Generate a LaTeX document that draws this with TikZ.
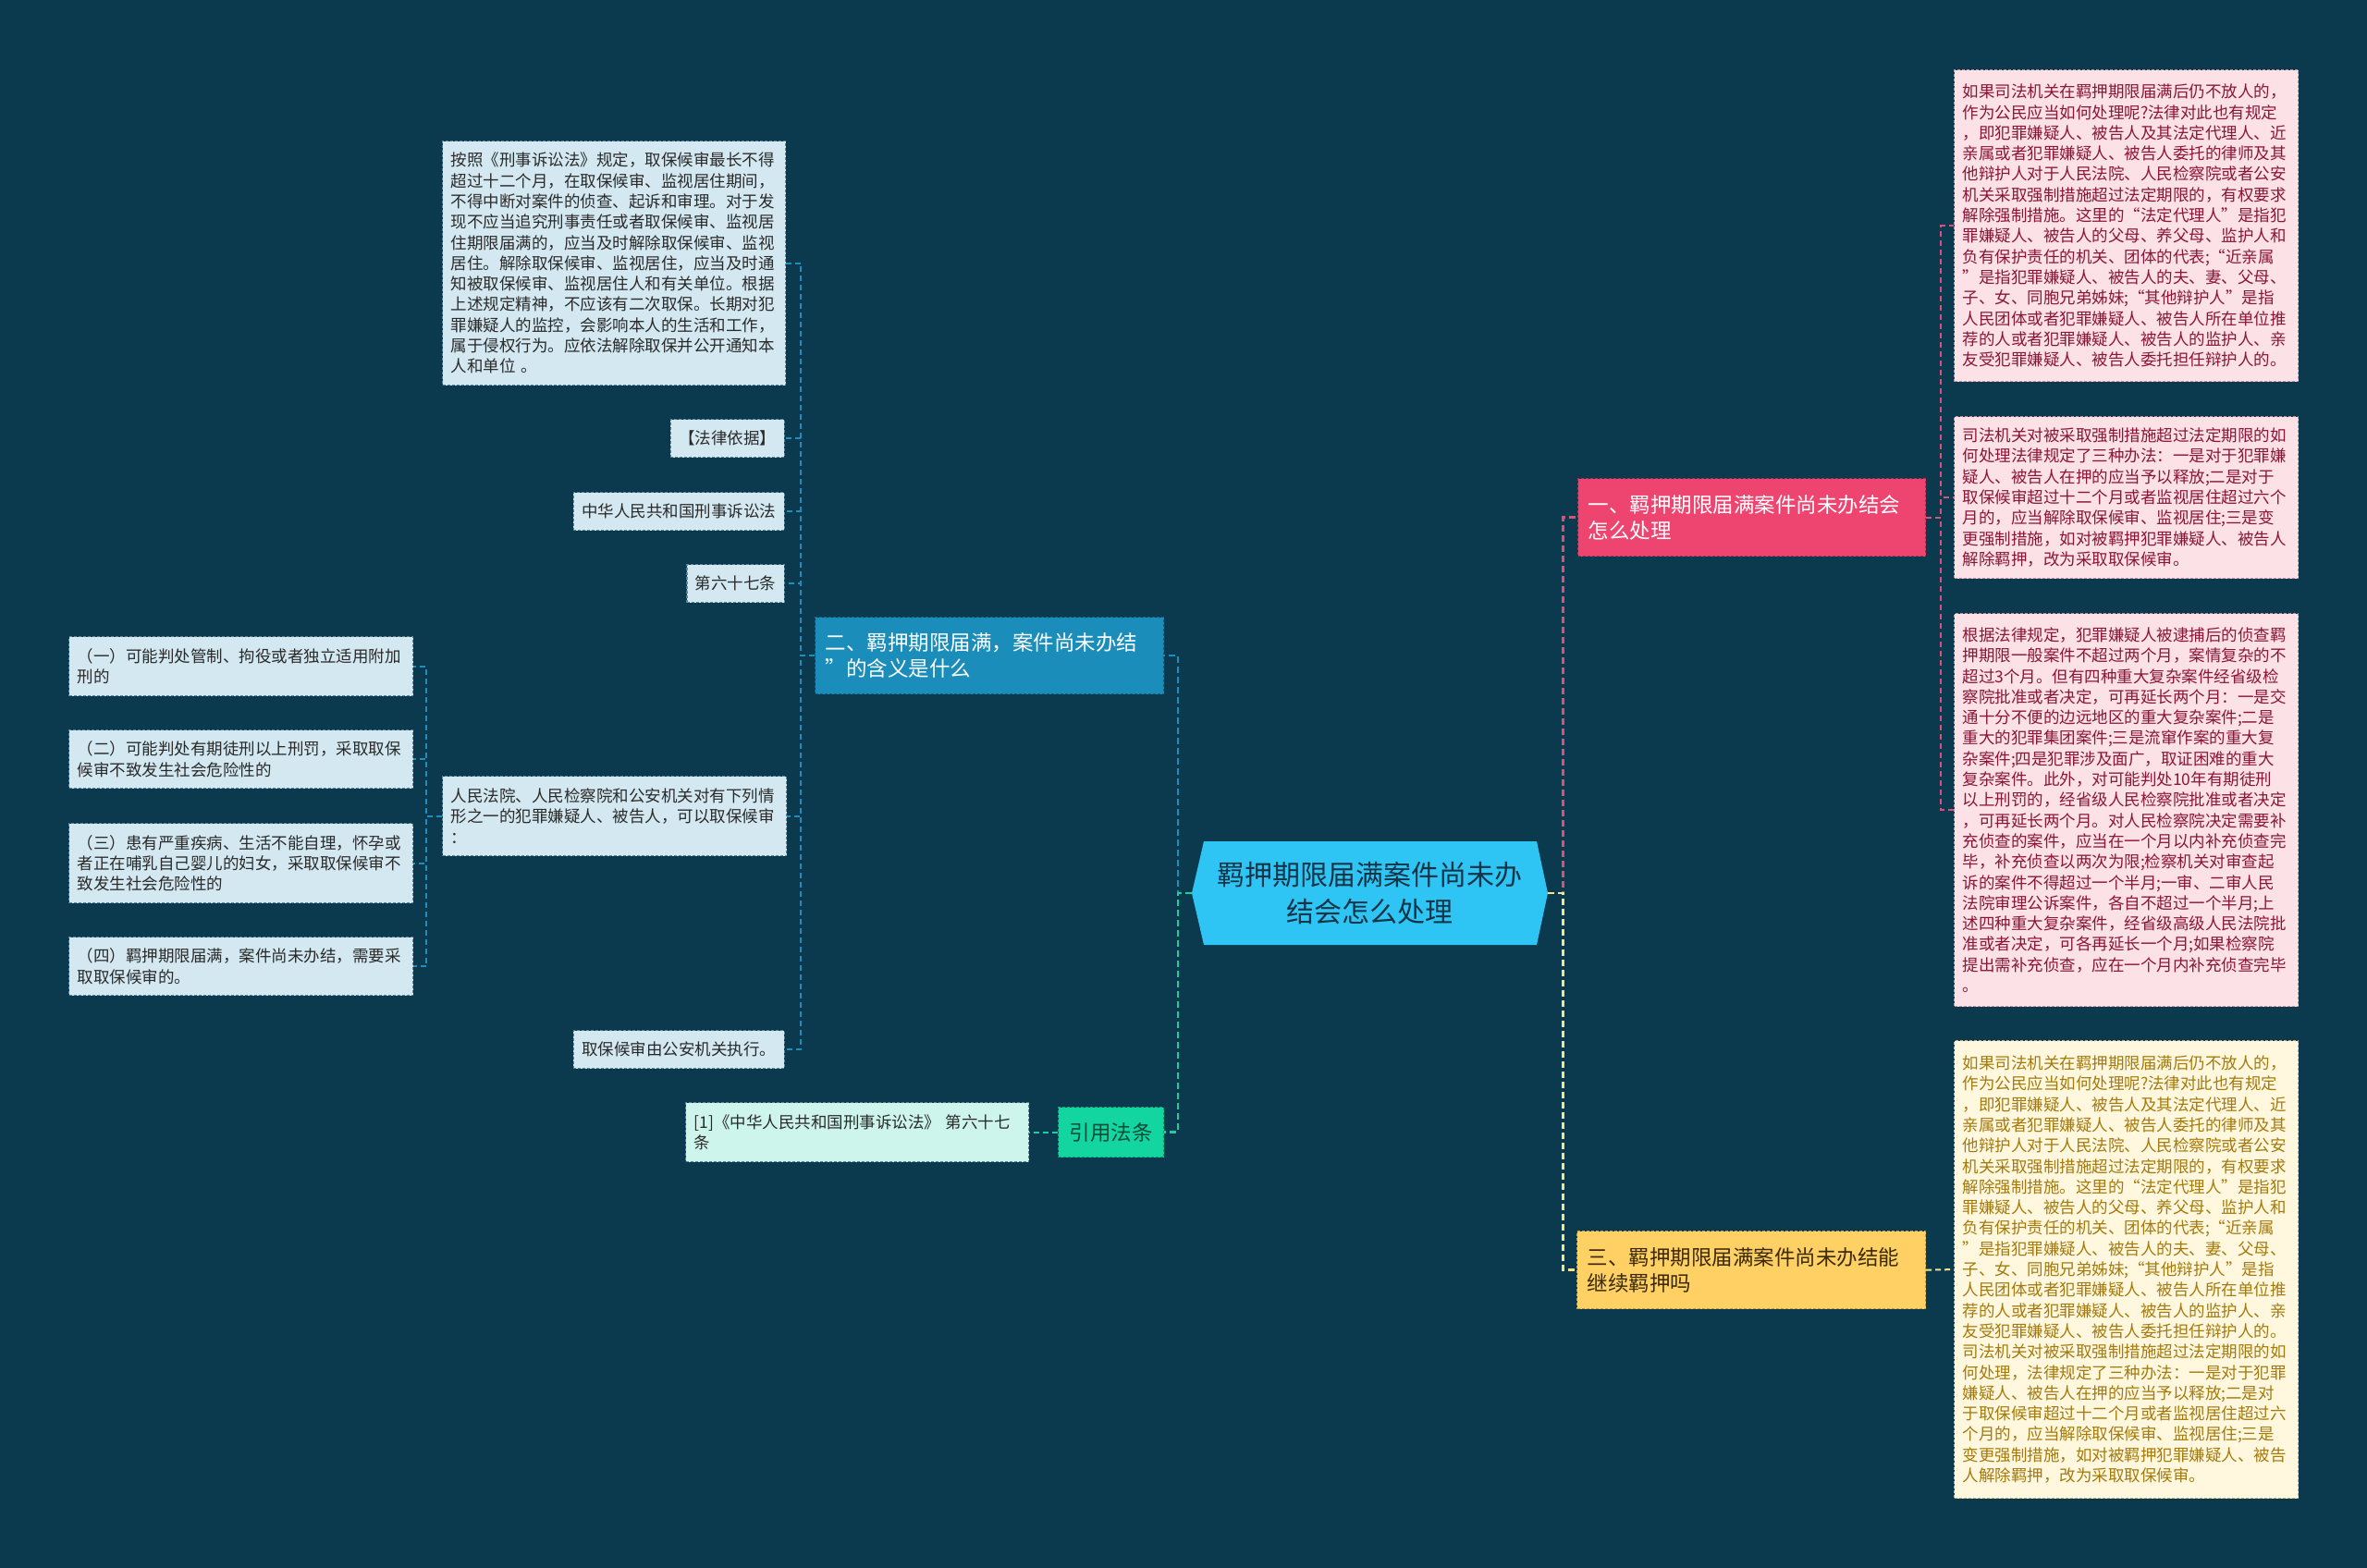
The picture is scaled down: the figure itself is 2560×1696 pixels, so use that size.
\documentclass[tikz,border=0pt]{standalone}
\usepackage{fontspec}
\setmainfont{Noto Sans CJK SC}
\definecolor{bg}{HTML}{0B3A4E}
\definecolor{lbfill}{HTML}{D3E8F0}
\definecolor{lbdraw}{HTML}{5D8496}
\definecolor{lbtext}{HTML}{2A2A2A}
\definecolor{bluebr}{HTML}{1A8DBA}
\definecolor{bluecon}{HTML}{1F8EBE}
\definecolor{cfill}{HTML}{2EC4F3}
\definecolor{ctext}{HTML}{163447}
\definecolor{pinkbr}{HTML}{EE4570}
\definecolor{pinkcon}{HTML}{DB5079}
\definecolor{pkfill}{HTML}{FCE1E7}
\definecolor{pktext}{HTML}{8B1538}
\definecolor{pkdraw}{HTML}{C98FA0}
\definecolor{yelbr}{HTML}{FFD064}
\definecolor{yeltext}{HTML}{3A2A06}
\definecolor{yelcon}{HTML}{F3E48C}
\definecolor{ybfill}{HTML}{FFF7DE}
\definecolor{ybtext}{HTML}{A47A0C}
\definecolor{ybdraw}{HTML}{C9B27A}
\definecolor{grnbr}{HTML}{13D5A0}
\definecolor{grntext}{HTML}{0D4B3A}
\definecolor{grncon}{HTML}{1CCF9E}
\definecolor{citefill}{HTML}{CEF5EB}
\begin{document}
\begin{tikzpicture}[x=1pt,y=-1pt,
  base/.style={anchor=north west, inner xsep=9pt, inner ysep=0pt, align=left,
    font=\fontsize{17.5}{22.3}\selectfont, dash pattern=on 3pt off 2pt, line width=1.2pt},
  lb/.style={base, fill=lbfill, draw=lbdraw, text=lbtext},
  lbr/.style={lb, anchor=north east, minimum height=41pt},
  pk/.style={base, fill=pkfill, draw=pkdraw, text=pktext},
  yb/.style={base, fill=ybfill, draw=ybdraw, text=ybtext},
  br/.style={anchor=north west, inner xsep=11pt, inner ysep=0pt, align=left,
    font=\fontsize{22.5}{28}\selectfont, dash pattern=on 3pt off 2pt, line width=1.2pt},
  con/.style={line width=2pt, dash pattern=on 6pt off 4pt},
  maincon/.style={line width=2.6pt, dash pattern=on 7pt off 4pt}
]
\fill[bg] (0,0) rectangle (2560,1696);

% central
\node (central) [at={(1481.5,966)}, minimum width=385pt, minimum height=112pt, inner sep=0pt,
  fill=bg, align=center, text=ctext, font=\fontsize{30}{40}\selectfont,
  path picture={\fill[cfill] (path picture bounding box.west)
     -- ([xshift=13pt]path picture bounding box.north west)
     -- ([xshift=-12pt]path picture bounding box.north east)
     -- (path picture bounding box.east)
     -- ([xshift=-12pt]path picture bounding box.south east)
     -- ([xshift=13pt]path picture bounding box.south west) -- cycle;}]
  {羁押期限届满案件尚未办\\结会怎么处理};

% left branch 二
\node (b2) [br, fill=bluebr, draw=bluebr!70!black, text=white, text width=355pt, minimum height=83pt, at={(881,667)}]
  {二、羁押期限届满，案件尚未办结\\”的含义是什么};

\node (a1) [lb, text width=353pt, minimum height=264pt, at={(478,152)}]
  {按照《刑事诉讼法》规定，取保候审最长不得\\
超过十二个月，在取保候审、监视居住期间，\\
不得中断对案件的侦查、起诉和审理。对于发\\
现不应当追究刑事责任或者取保候审、监视居\\
住期限届满的，应当及时解除取保候审、监视\\
居住。解除取保候审、监视居住，应当及时通\\
知被取保候审、监视居住人和有关单位。根据\\
上述规定精神，不应该有二次取保。长期对犯\\
罪嫌疑人的监控，会影响本人的生活和工作，\\
属于侵权行为。应依法解除取保并公开通知本\\
人和单位 。};
\node (faly) [lbr, at={(849,453)}] {【法律依据】};
\node (zhrm) [lbr, at={(849,532)}] {中华人民共和国刑事诉讼法};
\node (d67) [lbr, at={(849,610)}] {第六十七条};
\node (rm) [lb, text width=354pt, minimum height=86pt, at={(478,839)}]
  {人民法院、人民检察院和公安机关对有下列情\\形之一的犯罪嫌疑人、被告人，可以取保候审\\：};
\node (qb) [lbr, at={(849,1114)}] {取保候审由公安机关执行。};

\node (i1) [lb, text width=354pt, minimum height=64pt, at={(74,688)}]
  {（一）可能判处管制、拘役或者独立适用附加\\刑的};
\node (i2) [lb, text width=354pt, minimum height=63pt, at={(74,789)}]
  {（二）可能判处有期徒刑以上刑罚，采取取保\\候审不致发生社会危险性的};
\node (i3) [lb, text width=354pt, minimum height=86pt, at={(74,890)}]
  {（三）患有严重疾病、生活不能自理，怀孕或\\者正在哺乳自己婴儿的妇女，采取取保候审不\\致发生社会危险性的};
\node (i4) [lb, text width=354pt, minimum height=63pt, at={(74,1013)}]
  {（四）羁押期限届满，案件尚未办结，需要采\\取取保候审的。};

% citation
\node (yy) [anchor=north west, fill=grnbr, draw=grnbr!75!black, dash pattern=on 3pt off 2pt, line width=1.2pt,
  text=grntext, minimum width=114pt, minimum height=54pt, inner sep=0pt,
  font=\fontsize{22.5}{28}\selectfont, at={(1144,1197)}] {引用法条};
\node (cite) [base, fill=citefill, draw=lbdraw, text=lbtext, text width=353pt, minimum height=64pt, at={(741,1192)}]
  {[1]《中华人民共和国刑事诉讼法》 第六十七\\条};

% right branch 一
\node (b1) [br, fill=pinkbr, draw=pinkbr!70!black, text=white, text width=354pt, minimum height=84pt, at={(1706,517)}]
  {一、羁押期限届满案件尚未办结会\\怎么处理};
\node (pk1) [pk, text width=354pt, minimum height=337pt, at={(2113,75)}]
  {如果司法机关在羁押期限届满后仍不放人的，\\
作为公民应当如何处理呢?法律对此也有规定\\
，即犯罪嫌疑人、被告人及其法定代理人、近\\
亲属或者犯罪嫌疑人、被告人委托的律师及其\\
他辩护人对于人民法院、人民检察院或者公安\\
机关采取强制措施超过法定期限的，有权要求\\
解除强制措施。这里的“法定代理人”是指犯\\
罪嫌疑人、被告人的父母、养父母、监护人和\\
负有保护责任的机关、团体的代表;“近亲属\\
”是指犯罪嫌疑人、被告人的夫、妻、父母、\\
子、女、同胞兄弟姊妹;“其他辩护人”是指\\
人民团体或者犯罪嫌疑人、被告人所在单位推\\
荐的人或者犯罪嫌疑人、被告人的监护人、亲\\
友受犯罪嫌疑人、被告人委托担任辩护人的。};
\node (pk2) [pk, text width=354pt, minimum height=175pt, at={(2113,450)}]
  {司法机关对被采取强制措施超过法定期限的如\\
何处理法律规定了三种办法：一是对于犯罪嫌\\
疑人、被告人在押的应当予以释放;二是对于\\
取保候审超过十二个月或者监视居住超过六个\\
月的，应当解除取保候审、监视居住;三是变\\
更强制措施，如对被羁押犯罪嫌疑人、被告人\\
解除羁押，改为采取取保候审。};
\node (pk3) [pk, text width=354pt, minimum height=425pt, at={(2113,663)}]
  {根据法律规定，犯罪嫌疑人被逮捕后的侦查羁\\
押期限一般案件不超过两个月，案情复杂的不\\
超过3个月。但有四种重大复杂案件经省级检\\
察院批准或者决定，可再延长两个月：一是交\\
通十分不便的边远地区的重大复杂案件;二是\\
重大的犯罪集团案件;三是流窜作案的重大复\\
杂案件;四是犯罪涉及面广，取证困难的重大\\
复杂案件。此外，对可能判处10年有期徒刑\\
以上刑罚的，经省级人民检察院批准或者决定\\
，可再延长两个月。对人民检察院决定需要补\\
充侦查的案件，应当在一个月以内补充侦查完\\
毕，补充侦查以两次为限;检察机关对审查起\\
诉的案件不得超过一个半月;一审、二审人民\\
法院审理公诉案件，各自不超过一个半月;上\\
述四种重大复杂案件，经省级高级人民法院批\\
准或者决定，可各再延长一个月;如果检察院\\
提出需补充侦查，应在一个月内补充侦查完毕\\
。};

% right branch 三
\node (b3) [br, fill=yelbr, draw=yelbr!75!black, text=yeltext, text width=355pt, minimum height=84pt, at={(1705,1331)}]
  {三、羁押期限届满案件尚未办结能\\继续羁押吗};
\node (yb) [yb, text width=354pt, minimum height=495pt, at={(2113,1125)}]
  {如果司法机关在羁押期限届满后仍不放人的，\\
作为公民应当如何处理呢?法律对此也有规定\\
，即犯罪嫌疑人、被告人及其法定代理人、近\\
亲属或者犯罪嫌疑人、被告人委托的律师及其\\
他辩护人对于人民法院、人民检察院或者公安\\
机关采取强制措施超过法定期限的，有权要求\\
解除强制措施。这里的“法定代理人”是指犯\\
罪嫌疑人、被告人的父母、养父母、监护人和\\
负有保护责任的机关、团体的代表;“近亲属\\
”是指犯罪嫌疑人、被告人的夫、妻、父母、\\
子、女、同胞兄弟姊妹;“其他辩护人”是指\\
人民团体或者犯罪嫌疑人、被告人所在单位推\\
荐的人或者犯罪嫌疑人、被告人的监护人、亲\\
友受犯罪嫌疑人、被告人委托担任辩护人的。\\
司法机关对被采取强制措施超过法定期限的如\\
何处理，法律规定了三种办法：一是对于犯罪\\
嫌疑人、被告人在押的应当予以释放;二是对\\
于取保候审超过十二个月或者监视居住超过六\\
个月的，应当解除取保候审、监视居住;三是\\
变更强制措施，如对被羁押犯罪嫌疑人、被告\\
人解除羁押，改为采取取保候审。};

% connectors
\draw[maincon, bluecon] (central.west) -- ++(-15,0) |- (b2.east);
\draw[maincon, grncon] (central.west) -- ++(-15,0) |- (yy.east);
\draw[maincon, pinkcon] (central.east) -- ++(16,0) |- (b1.west);
\draw[maincon, yelcon] (central.east) -- ++(16,0) |- (b3.west);
\foreach \n in {a1,faly,zhrm,d67,rm,qb}
  \draw[con, bluecon] (b2.west) -- ++(-15,0) |- (\n.east);
\foreach \n in {i1,i2,i3,i4}
  \draw[con, bluecon] (rm.west) -- ++(-17,0) |- (\n.east);
\foreach \n in {pk1,pk2,pk3}
  \draw[con, pinkcon] (b1.east) -- ++(16,0) |- (\n.west);
\draw[con, yelcon] (b3.east) -- (yb.west);
\draw[con, grncon] (yy.west) -- (cite.east);
\end{tikzpicture}
\end{document}
